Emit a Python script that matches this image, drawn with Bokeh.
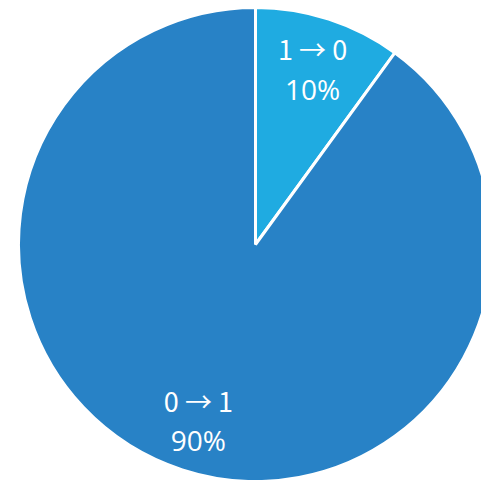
import math
from bokeh.plotting import figure
from bokeh.models import ColumnDataSource, Range1d
from bokeh.core.properties import value
from bokeh.embed import file_html
from bokeh.resources import INLINE

categories = ["1 → 0", "0 → 1"]
values = [10, 90]
colors = ["#1FABE1", "#2882C6"]

total = sum(values)
starts, ends, lx, ly, pct = [], [], [], [], []
cx, cy, R = 255, -244, 237
a = math.pi / 2
for v in values:
    span = 2 * math.pi * v / total
    starts.append(a)
    ends.append(a - span)
    mid = a - span / 2
    lx.append(cx + 0.78 * R * math.cos(mid))
    ly.append(cy + 0.78 * R * math.sin(mid))
    pct.append(f"{round(100 * v / total)}%")
    a -= span

src = ColumnDataSource(dict(start=starts, end=ends, color=colors, cat=categories,
                            pct=pct, lx=lx, ly=ly))

p = figure(width=481, height=480, output_backend="svg", toolbar_location=None,
           x_range=Range1d(0, 481), y_range=Range1d(-480, 0), min_border=0)
p.axis.visible = False
p.grid.visible = False
p.outline_line_color = None
p.background_fill_color = "white"

p.wedge(x=cx, y=cy, radius=R, start_angle="start", end_angle="end", direction="clock",
        fill_color="color", line_color="white", line_width=3, source=src)
p.text(x="lx", y="ly", text="cat", source=src, text_color="white", text_font=value("Noto Sans CJK JP"),
       text_font_size="27px", text_align="center", text_baseline="middle", y_offset=-20)
p.text(x="lx", y="ly", text="pct", source=src, text_color="white", text_font=value("Open Sans"),
       text_font_size="28px", text_align="center", text_baseline="middle", y_offset=20)

open("out.html", "w").write(file_html(p, INLINE))
